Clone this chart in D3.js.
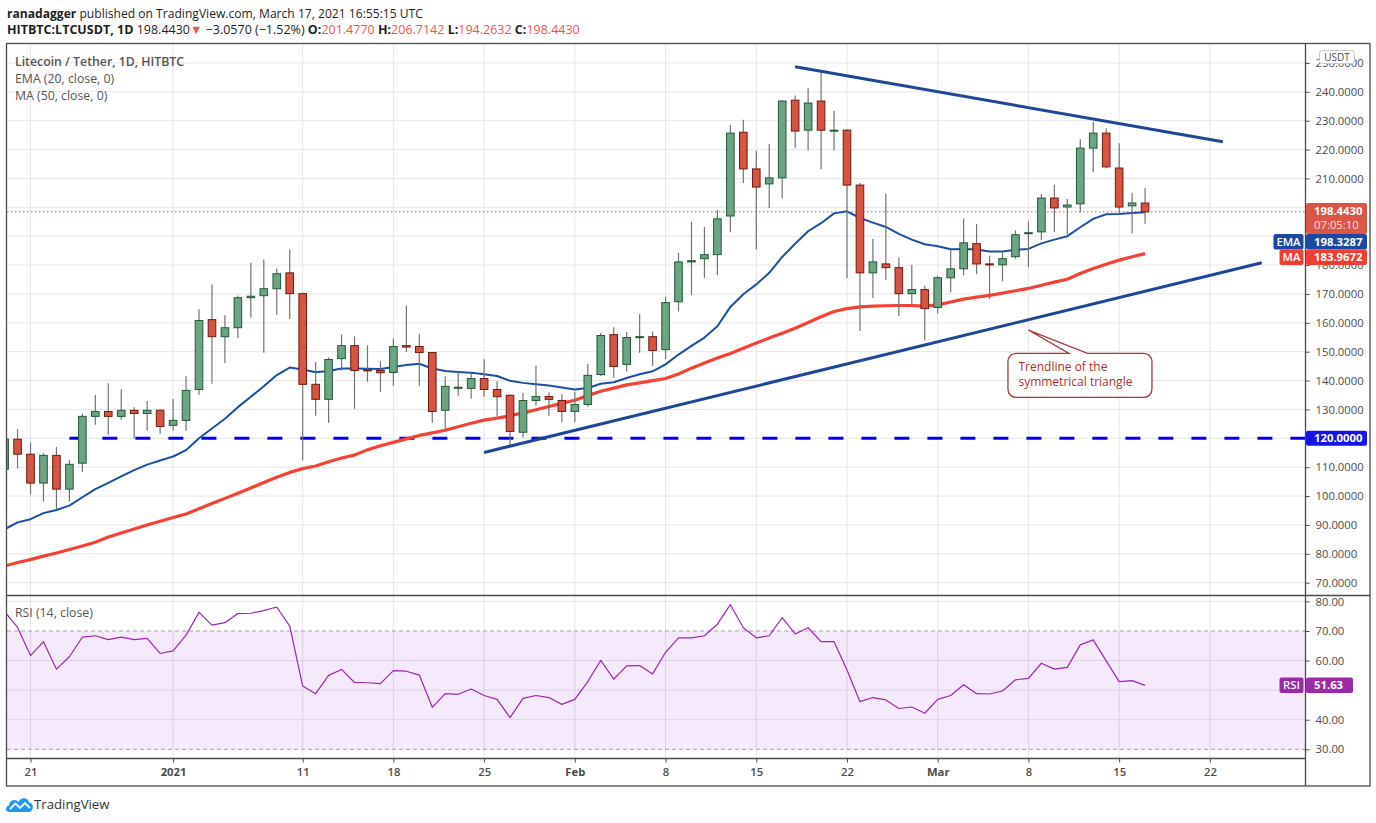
<!DOCTYPE html>
<html><head><meta charset="utf-8">
<script src="https://cdn.jsdelivr.net/npm/d3@7"></script>
<style>
body{margin:0;background:#fff;}
svg{display:block;font-family:'Open Sans','Noto Sans',sans-serif;}
</style>
</head><body>
<svg id="c" width="1376" height="823"></svg>
<script>
// ---------------- DATA ----------------
const startDate = "2020-12-19";
const endDate = "2021-03-17";
const open  = [109.3,119.7,114.5,104.5,114.1,102.4,111.4,127.6,129.3,127.6,129.7,128.6,129.7,124.5,126.2,136.9,161.1,155.2,158.3,168.7,169.4,171.8,177.3,170.1,138.7,133.5,147.6,152.1,143.7,143.5,142.8,152.1,151.8,149.7,129.7,137.3,137.3,140.7,136.9,134.9,122.1,133.1,134.5,133.1,129.3,131.7,142.1,155.9,145.6,154.9,155.2,150.7,167.3,181.1,182.2,183.6,197.0,226.0,213.3,208.1,210.2,237.1,226.7,236.8,226.4,226.7,207.7,177.3,180.4,179.1,170.1,171.5,165.3,175.6,178.7,187.4,180.4,180.1,182.9,190.9,191.5,203.2,200.1,201.2,220.5,225.7,213.6,200.5,201.477];
const high  = [122.0,123.2,118.6,114.8,117.0,112.5,128.5,135.0,139.1,137.0,130.8,132.9,130.1,133.6,141.5,164.7,173.3,162.6,169.5,180.8,181.9,178.8,185.4,170.4,146.4,148.0,156.0,155.3,152.2,146.7,154.6,166.0,156.0,150.0,141.4,143.1,142.5,147.4,139.8,135.3,135.8,145.1,135.9,135.3,136.1,145.7,156.5,158.5,156.8,163.0,157.0,169.0,184.2,195.0,193.2,199.1,228.6,230.3,219.6,221.9,237.1,238.7,241.3,246.9,233.4,227.1,208.4,189.1,204.8,182.5,180.1,172.8,176.3,185.3,196.1,194.2,183.3,184.6,192.0,195.1,204.6,207.8,202.9,223.6,229.6,227.4,222.2,205.0,206.7142];
const low   = [106.0,109.5,100.5,98.1,95.2,98.1,108.3,124.7,121.2,126.4,119.9,122.6,121.6,122.6,122.6,135.1,138.9,146.1,154.7,161.8,149.6,162.7,161.3,112.3,127.8,125.4,143.4,130.2,139.6,136.1,138.2,149.9,138.2,125.4,122.6,134.7,133.7,134.4,127.7,117.4,120.3,131.3,127.8,125.5,125.7,131.0,141.6,140.9,143.1,149.6,145.1,147.5,163.9,169.7,175.6,176.6,191.4,208.4,185.5,199.7,203.1,220.6,219.7,213.2,219.7,175.5,157.2,168.6,174.8,162.4,166.6,154.0,163.2,170.6,176.5,176.9,168.2,174.4,182.2,179.3,188.6,191.4,190.7,198.2,212.1,213.5,197.4,191.0,194.2632];
const close = [119.7,114.5,104.5,114.1,102.4,111.0,127.6,129.3,127.6,129.7,128.6,129.7,124.1,126.2,136.6,160.8,155.2,158.3,168.7,169.2,171.8,177.0,170.1,138.7,133.5,147.3,152.1,143.5,143.4,142.7,151.8,151.6,149.7,129.3,138.0,137.7,140.7,136.9,134.4,122.4,133.1,134.5,133.5,129.3,131.7,141.8,155.6,144.9,154.9,155.2,150.4,167.0,181.1,181.5,183.6,196.0,225.7,213.3,207.0,210.2,236.8,226.4,236.1,226.7,226.7,207.7,177.3,181.1,179.1,170.1,171.5,164.9,175.6,178.7,187.7,180.4,180.1,182.2,190.5,191.2,203.2,199.8,200.8,220.5,225.7,214.0,200.1,201.5,198.443];
const ema20 = [88.5,90.9,92.0,94.1,95.2,96.7,99.6,102.4,104.6,106.8,109.0,110.9,112.3,113.7,115.9,120.0,123.4,126.8,130.8,134.4,138.0,141.9,144.5,143.8,142.9,143.3,144.2,144.2,144.1,144.0,144.7,145.4,145.8,144.2,143.3,143.0,142.7,142.2,141.6,139.9,139.2,138.7,138.3,137.6,136.9,137.4,138.9,139.4,140.9,142.2,143.2,145.6,149.0,152.0,154.9,158.8,165.5,169.9,173.3,177.3,182.8,187.4,191.7,194.5,197.9,198.6,196.3,194.7,193.2,190.8,188.8,187.2,186.5,185.5,185.6,185.4,184.7,184.7,185.3,185.6,187.5,188.8,190.0,193.1,196.0,197.6,197.7,198.0,198.3287];
const ma50  = [75.8,77.0,78.0,79.2,80.3,81.5,82.7,84.0,85.8,87.2,88.6,90.0,91.3,92.6,93.8,95.6,97.4,99.2,101.0,102.8,104.7,106.5,108.2,109.5,110.4,111.9,113.2,114.2,116.0,117.4,118.6,119.8,121.0,121.9,122.8,124.0,125.2,126.3,127.0,127.8,128.8,129.9,131.0,132.1,133.2,134.8,136.3,137.4,138.5,139.2,140.0,140.7,142.3,144.3,146.1,147.8,149.4,151.2,153.0,154.7,156.4,158.1,160.1,162.1,163.9,164.9,165.5,165.8,165.9,166.0,166.0,165.8,166.2,167.2,168.2,168.9,169.5,170.3,171.1,171.9,173.0,174.1,175.1,177.1,178.8,180.3,181.7,182.9,183.9672];
const rsi14 = [76.6,71.2,61.7,66.4,57.1,61.3,67.9,68.4,67.1,67.9,67.1,67.5,62.4,63.3,68.6,76.3,72.0,72.8,75.9,76.0,76.9,78.1,71.7,51.4,48.8,55.0,57.0,52.6,52.5,52.2,56.6,56.4,55.1,44.2,48.8,48.6,50.4,48.2,46.9,40.7,47.2,48.2,47.5,45.2,46.9,52.9,60.1,53.7,58.2,58.3,55.5,62.8,67.7,67.7,68.4,72.3,78.9,71.1,67.7,68.4,74.5,69.0,71.1,66.4,66.4,56.8,46.1,47.5,46.7,43.8,44.3,42.2,46.9,48.2,51.8,48.8,48.7,49.7,53.5,54.0,59.1,57.1,57.7,65.3,67.0,59.9,52.9,53.2,51.63];
const priceTicks = [70,80,90,100,110,120,130,140,150,160,170,180,190,200,210,220,230,240,250];
const rsiTicks = [30,40,50,60,70,80];
const timeTickDates = ["2020-12-21","2021-01-01","2021-01-11","2021-01-18","2021-01-25","2021-02-01","2021-02-08","2021-02-15","2021-02-22","2021-03-01","2021-03-08","2021-03-15","2021-03-22"];
const timeTickLabels = ["21","2021","11","18","25","Feb","8","15","22","Mar","8","15","22"];
const resistanceLine = [["2021-02-18",248.7],["2021-03-23",222.7]];
const supportLine = [["2021-01-25",115.1],["2021-03-26",180.8]];
const supportLevel = {from:"2020-12-24", price:120};
const annotation = {date:"2021-03-08", price:157.5, lines:["Trendline of the","symmetrical triangle"]};
const countdown = "07:05:10";
const change = -3.0570, changePct = -1.52;

// ---------------- SETUP ----------------
const parse = d3.utcParse("%Y-%m-%d");
const dates = d3.utcDay.range(parse(startDate), d3.utcDay.offset(parse(endDate),1));
const candles = dates.map((d,i)=>({d, o:open[i], h:high[i], l:low[i], c:close[i]}));
const DAY = 864e5;
const L=7, R=1305, T=43, MB=595, RB=758, AX=786, RIGHT=1370;
const t0 = +parse(startDate);
const x = d3.scaleUtc().domain([new Date(t0+0.185*DAY), new Date(t0+100.34*DAY)]).range([L,R]);
const y = d3.scaleLinear().domain([65.74,256.9]).range([MB,T]);
const yR = d3.scaleLinear().domain([27.06,82.17]).range([RB,MB]);

const svg = d3.select("#c");
const defs = svg.append("defs");
defs.append("clipPath").attr("id","cm").append("rect").attr("x",L).attr("y",T).attr("width",R-L).attr("height",MB-T);
defs.append("clipPath").attr("id","cr").append("rect").attr("x",L).attr("y",MB).attr("width",R-L).attr("height",RB-MB);

const GRID="#e6e6e6", AXC="#4a4a4a", TXT="#4c4c4c";
const tTicks = timeTickDates.map(parse);

// label boxes on the price axis (computed first so fully covered tick labels can be skipped)
const last = close[close.length-1];
const lastEma = ema20[ema20.length-1], lastMa = ma50[ma50.length-1], lastRsi = rsi14[rsi14.length-1];
const lpTop = y(last)-8.7, lpH=31;
const emaTop = Math.max(y(lastEma)-7.75, lpTop+lpH);
const maTop = Math.max(y(lastMa)-7.75, emaTop+15.5);
const coverMain = [[lpTop, maTop+15.5],[y(supportLevel.price)-7.5, y(supportLevel.price)+7.5]];
const coverRsi = [[yR(lastRsi)-7.75, yR(lastRsi)+7.75]];
const covered = (v,iv)=>iv.some(([a,b])=>v>a+2 && v<b-2);

// gridlines
const grid = svg.append("g");
grid.selectAll(".vg").data(tTicks).join("line").attr("x1",d=>x(d)).attr("x2",d=>x(d)).attr("y1",T).attr("y2",RB).attr("stroke",GRID);
grid.selectAll(".hg").data(priceTicks).join("line").attr("x1",L).attr("x2",R).attr("y1",d=>y(d)).attr("y2",d=>y(d)).attr("stroke",GRID);

// RSI band
svg.append("rect").attr("x",L).attr("width",R-L).attr("y",yR(70)).attr("height",yR(30)-yR(70)).attr("fill","#f3e5fc").attr("opacity",0.85);
svg.append("g").selectAll("line").data(rsiTicks.filter(v=>v!==70&&v!==30)).join("line")
  .attr("x1",L).attr("x2",R).attr("y1",d=>yR(d)).attr("y2",d=>yR(d)).attr("stroke",d=>d>70?GRID:"#dcd0e6");
svg.append("g").selectAll("line").data(tTicks).join("line").attr("x1",d=>x(d)).attr("x2",d=>x(d)).attr("y1",yR(70)).attr("y2",yR(30)).attr("stroke","#dccfe6");
svg.append("g").selectAll("line").data([70,30]).join("line")
  .attr("x1",L).attr("x2",R).attr("y1",d=>yR(d)).attr("y2",d=>yR(d)).attr("stroke","#a8a0ac").attr("stroke-dasharray","4,3");

// ---------------- MAIN PANE ----------------
const main = svg.append("g").attr("clip-path","url(#cm)");

main.append("line").attr("x1",x(parse(supportLevel.from))).attr("x2",R).attr("y1",y(supportLevel.price)).attr("y2",y(supportLevel.price))
  .attr("stroke","#0000ff").attr("stroke-width",3).attr("stroke-dasharray","15,18");

main.append("line").attr("x1",L).attr("x2",R).attr("y1",y(last)).attr("y2",y(last))
  .attr("stroke","#e5533f").attr("stroke-width",1).attr("stroke-dasharray","1.5,2.5");

const lineGen = (arr,sc)=>d3.line().x((d,i)=>x(dates[i])).y(d=>sc(d))(arr);
main.append("path").attr("d",lineGen(ma50,y)).attr("fill","none").attr("stroke","#f44336").attr("stroke-width",3.2).attr("stroke-linejoin","round");
main.append("path").attr("d",lineGen(ema20,y)).attr("fill","none").attr("stroke","#1c4fa8").attr("stroke-width",2).attr("stroke-linejoin","round");

const UP_F="#6ba583", UP_S="#225b37", DN_F="#d75442", DN_S="#6e1c12", WICK="#737373";
const cg = main.append("g");
cg.selectAll(".w").data(candles).join("line").attr("x1",d=>x(d.d)).attr("x2",d=>x(d.d))
  .attr("y1",d=>y(d.h)).attr("y2",d=>y(d.l)).attr("stroke",WICK).attr("stroke-width",1.2);
cg.selectAll(".b").data(candles).join("rect")
  .attr("x",d=>x(d.d)-3.8).attr("width",7.6)
  .attr("y",d=>y(Math.max(d.o,d.c)))
  .attr("height",d=>Math.max(1,Math.abs(y(d.o)-y(d.c))))
  .attr("fill",d=>d.c>=d.o?UP_F:DN_F).attr("stroke",d=>d.c>=d.o?UP_S:DN_S).attr("stroke-width",1);

const tl = d3.line().x(d=>x(parse(d[0]))).y(d=>y(d[1]));
main.append("path").attr("d",tl(resistanceLine)).attr("stroke","#1f4797").attr("stroke-width",3).attr("fill","none");
main.append("path").attr("d",tl(supportLine)).attr("stroke","#1f4797").attr("stroke-width",3).attr("fill","none");

{
  const tx=x(parse(annotation.date)), ty=y(annotation.price);
  const bx=tx-20.5, by=ty+23.3, bw=144, bh=44, r=8;
  const p = `M${bx+r},${by} H${tx+40.6} L${tx},${ty} L${tx+59},${by} H${bx+bw-r} A${r},${r} 0 0 1 ${bx+bw},${by+r} V${by+bh-r} A${r},${r} 0 0 1 ${bx+bw-r},${by+bh} H${bx+r} A${r},${r} 0 0 1 ${bx},${by+bh-r} V${by+r} A${r},${r} 0 0 1 ${bx+r},${by} Z`;
  main.append("path").attr("d",p).attr("fill","#fff").attr("stroke","#a53a3a").attr("stroke-width",1.3);
  main.append("g").selectAll("text").data(annotation.lines).join("text")
    .attr("x",bx+10.5).attr("y",(d,i)=>by+18+i*14.5).attr("font-size",12).attr("fill","#b02e2e").text(d=>d);
}

// ---------------- RSI PANE ----------------
svg.append("g").attr("clip-path","url(#cr)").append("path").attr("d",lineGen(rsi14,yR))
  .attr("fill","none").attr("stroke","#9c27b0").attr("stroke-width",1.2).attr("stroke-linejoin","round");

// ---------------- FRAME ----------------
const fr = svg.append("g").attr("stroke","#4b4b4b").attr("stroke-width",1.3);
fr.append("rect").attr("x",6.5).attr("y",43.5).attr("width",RIGHT-6.5).attr("height",AX-43.5).attr("fill","none");
fr.append("line").attr("x1",R+0.5).attr("x2",R+0.5).attr("y1",T).attr("y2",AX);
fr.append("line").attr("x1",6.5).attr("x2",RIGHT).attr("y1",MB+0.5).attr("y2",MB+0.5);
fr.append("line").attr("x1",6.5).attr("x2",R).attr("y1",RB+0.5).attr("y2",RB+0.5);

// ---------------- AXES ----------------
const styleAxis = g=>{
  g.select(".domain").remove();
  g.selectAll(".tick line").attr("stroke",AXC);
  g.selectAll(".tick text").attr("fill",TXT).attr("font-size",11.3).attr("font-family","'Open Sans','Noto Sans',sans-serif");
};
svg.append("g").attr("transform",`translate(${R+0.5},0)`)
  .call(d3.axisRight(y).tickValues(priceTicks).tickSize(4).tickPadding(6).tickFormat(d=>d.toFixed(4))).call(styleAxis)
  .call(g=>g.selectAll(".tick text").filter(d=>covered(y(d),coverMain)).remove());
svg.append("g").attr("transform",`translate(${R+0.5},0)`)
  .call(d3.axisRight(yR).tickValues(rsiTicks).tickSize(4).tickPadding(6).tickFormat(d=>d.toFixed(2))).call(styleAxis)
  .call(g=>g.selectAll(".tick text").filter(d=>covered(yR(d),coverRsi)).remove());
svg.append("g").attr("transform",`translate(0,${RB+0.5})`)
  .call(d3.axisBottom(x).tickValues(tTicks).tickSize(4).tickPadding(5).tickFormat((d,i)=>timeTickLabels[i])).call(styleAxis)
  .call(g=>g.selectAll(".tick text").attr("font-weight",(d,i)=>/^\d{1,2}$/.test(timeTickLabels[i])?600:700).attr("font-size",11.3));

// USDT box
svg.append("rect").attr("x",1319.5).attr("y",50.5).attr("width",35).attr("height",13).attr("rx",3).attr("fill","#fff").attr("stroke","#c9c9c9");
svg.append("text").attr("x",1337).attr("y",60.5).attr("text-anchor","middle").attr("font-size",10).attr("fill",TXT).text("USDT");

function tagBox(yc,h,fill,valueText,tag,tagW,valW,extra){
  const g=svg.append("g");
  g.append("rect").attr("x",R+1).attr("y",yc-h/2).attr("width",valW).attr("height",h).attr("rx",2).attr("fill",fill);
  g.append("text").attr("x",R+9).attr("y",yc-h/2+11.5).attr("font-size",11.3).attr("font-weight",700).attr("fill","#fff").text(valueText);
  if(extra){ g.append("text").attr("x",R+9).attr("y",yc-h/2+26).attr("font-size",11.3).attr("fill","#fff").attr("fill-opacity",0.85).text(extra); }
  if(tag){
    g.append("rect").attr("x",R-1.5-tagW).attr("y",yc-h/2).attr("width",tagW).attr("height",h).attr("rx",2).attr("fill",fill);
    g.append("text").attr("x",R-1.5-tagW/2).attr("y",yc-h/2+11.5).attr("text-anchor","middle").attr("font-size",11.3).attr("font-weight",600).attr("fill","#fff").text(tag);
  }
}
tagBox(y(supportLevel.price),15,"#1414e6",supportLevel.price.toFixed(4),null,0,61);
tagBox(lpTop+lpH/2,lpH,"#db5646",last.toFixed(4),null,0,61,countdown);
tagBox(emaTop+7.75,15.5,"#1a48a2",lastEma.toFixed(4),"EMA",30,61);
tagBox(maTop+7.75,15.5,"#f23d33",lastMa.toFixed(4),"MA",24,61);
tagBox(yR(lastRsi),15.5,"#9a2aa8",lastRsi.toFixed(2),"RSI",24,47);

// ---------------- LEGENDS / HEADER ----------------
const leg = svg.append("g").attr("font-size",12.3).attr("fill","#555");
leg.append("text").attr("x",15).attr("y",66).attr("font-weight",600).text("Litecoin / Tether, 1D, HITBTC");
leg.append("text").attr("x",15).attr("y",83).text("EMA (20, close, 0)");
leg.append("text").attr("x",15).attr("y",100).text("MA (50, close, 0)");
svg.append("text").attr("x",15).attr("y",617).attr("font-size",12.3).attr("fill","#555").text("RSI (14, close)");

const h1 = svg.append("text").attr("x",7).attr("y",18).attr("font-size",12.1).attr("fill","#1e1e1e");
h1.append("tspan").attr("font-weight",700).text("ranadagger");
h1.append("tspan").text(" published on TradingView.com, March 17, 2021 16:55:15 UTC");

const RED="#ef5350";
const h2 = svg.append("text").attr("x",7).attr("y",34).attr("font-size",12.5).attr("fill","#1e1e1e");
h2.append("tspan").attr("font-weight",700).text("HITBTC:LTCUSDT, 1D");
h2.append("tspan").text("  "+last.toFixed(4));
h2.append("tspan").attr("fill",RED).text("▼");
h2.append("tspan").text(" \u2212"+Math.abs(change).toFixed(4)+" (\u2212"+Math.abs(changePct).toFixed(2)+"%) ");
[["O:",open],["H:",high],["L:",low],["C:",close]].forEach(([k,arr],i)=>{
  h2.append("tspan").attr("font-weight",700).text((i?" ":"")+k);
  h2.append("tspan").attr("fill",RED).text(arr[arr.length-1].toFixed(4));
});

const lg = svg.append("g").attr("transform","translate(6,796)");
lg.append("path").attr("d","M3,16 C-1,16 -1,10 3,9.5 C3,4 10,2 12.5,6 C14.5,1 22,1 23,6.5 C27,6.5 28,12 25.5,14.5 C25,15.6 24,16 23,16 Z").attr("fill","#2196f3");
lg.append("path").attr("d","M4,13 L9.5,7.5 L14,12 L19,7 L24,12").attr("fill","none").attr("stroke","#fff").attr("stroke-width",1.8);
svg.append("text").attr("x",34).attr("y",809).attr("font-size",13.2).attr("fill","#333").text("TradingView");
</script>
</body></html>
